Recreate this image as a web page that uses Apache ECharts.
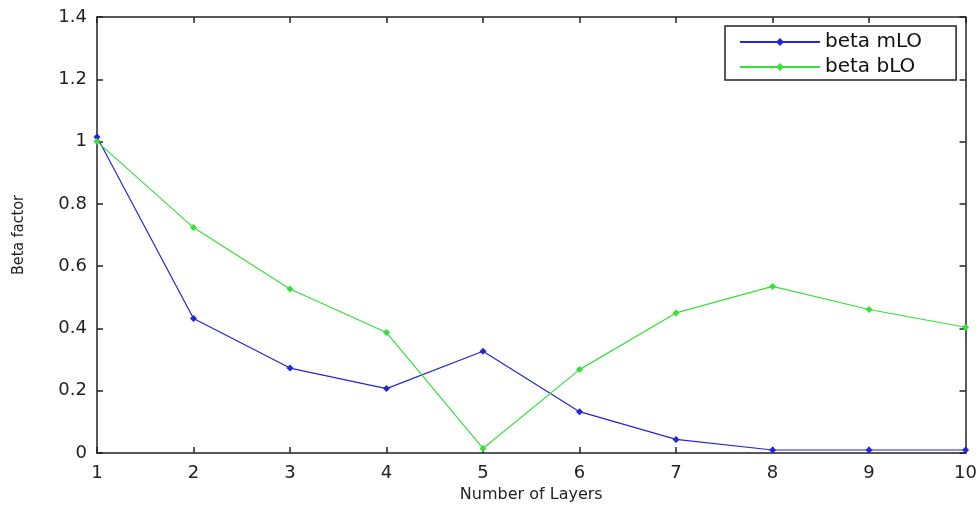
<!DOCTYPE html>
<html>
<head>
<meta charset="utf-8">
<script src="https://cdn.jsdelivr.net/npm/echarts@6/dist/echarts.min.js"></script>
<style>
  html, body { margin: 0; padding: 0; background: #fff; }
  #chart { width: 980px; height: 508px; }
</style>
</head>
<body>
<div id="chart"></div>
<script>
// Number of layers on the x axis
const layers = [1, 2, 3, 4, 5, 6, 7, 8, 9, 10];
// Beta factor for each configuration
const betaMLO = [1.015, 0.432, 0.273, 0.207, 0.327, 0.133, 0.044, 0.010, 0.010, 0.010];
const betaBLO = [1.000, 0.724, 0.527, 0.387, 0.015, 0.268, 0.450, 0.535, 0.461, 0.404];
const seriesNames = ['beta mLO', 'beta bLO'];

const font = 'DejaVu Sans, Verdana, sans-serif';
const pairs = (ys) => layers.map((x, i) => [x, ys[i]]);

const boxAxis = (extra) => Object.assign({
  axisLine: { show: true, onZero: false, lineStyle: { color: '#222', width: 1.5 } },
  axisTick: { show: true, inside: true, length: 6, lineStyle: { color: '#222', width: 1.5 } },
  splitLine: { show: false }
}, extra);

const chart = echarts.init(document.getElementById('chart'), null, { renderer: 'canvas' });
chart.setOption({
  backgroundColor: '#fff',
  animation: false,
  grid: { left: 97, right: 14, top: 17, bottom: 50 },
  legend: {
    data: seriesNames,
    orient: 'vertical',
    left: 725,
    top: 26,
    padding: [6, 34, 3, 14],
    itemGap: 5,
    itemWidth: 80,
    itemHeight: 10,
    borderColor: '#222',
    borderWidth: 1.5,
    backgroundColor: '#fff',
    textStyle: { fontFamily: font, fontSize: 20, color: '#111' }
  },
  xAxis: [
    boxAxis({
      type: 'value', min: 1, max: 10, interval: 1, position: 'bottom',
      name: 'Number of Layers', nameLocation: 'middle', nameGap: 30,
      nameTextStyle: { fontFamily: font, fontSize: 16, color: '#222' },
      axisLabel: { fontFamily: font, fontSize: 18, color: '#222', margin: 11 }
    }),
    boxAxis({
      type: 'value', min: 1, max: 10, interval: 1, position: 'top',
      axisLabel: { show: false }
    })
  ],
  yAxis: [
    boxAxis({
      type: 'value', min: 0, max: 1.4, interval: 0.2, position: 'left',
      name: 'Beta factor', nameLocation: 'middle', nameGap: 70,
      nameTextStyle: { fontFamily: 'Liberation Sans Narrow, DejaVu Sans Condensed, Arial, sans-serif', fontSize: 16, color: '#222' },
      axisLabel: { fontFamily: font, fontSize: 18, color: '#222', margin: 10 }
    }),
    boxAxis({
      type: 'value', min: 0, max: 1.4, interval: 0.2, position: 'right',
      axisLabel: { show: false }
    })
  ],
  series: [
    {
      name: seriesNames[0], type: 'line', data: pairs(betaMLO),
      symbol: 'diamond', symbolSize: 7,
      lineStyle: { color: '#2424d8', width: 1.2 },
      itemStyle: { color: '#2424d8' }
    },
    {
      name: seriesNames[1], type: 'line', data: pairs(betaBLO),
      symbol: 'diamond', symbolSize: 7,
      lineStyle: { color: '#38df38', width: 1.2 },
      itemStyle: { color: '#38df38' }
    }
  ]
});
</script>
</body>
</html>
